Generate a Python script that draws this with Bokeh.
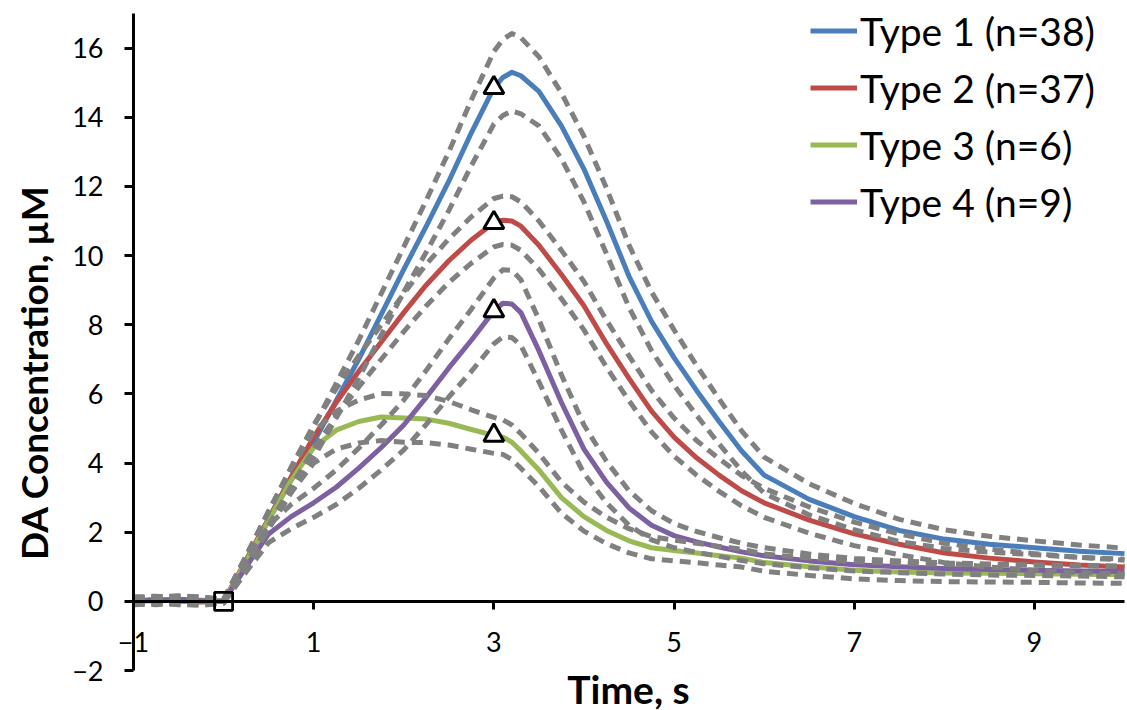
from bokeh.plotting import figure
from bokeh.models import LinearAxis, FixedTicker, Legend, LegendItem, Range1d, Label
from bokeh.embed import file_html
from bokeh.resources import INLINE
import math

# ---- data ----
t = [-1, -0.75, -0.5, -0.25, 0,
     0.25, 0.5, 0.75, 1, 1.25, 1.5, 1.75, 2, 2.25, 2.5, 2.75, 3,
     3.1, 3.2, 3.3,
     3.5, 3.75, 4, 4.25, 4.5, 4.75, 5, 5.25, 5.5, 5.75, 6,
     6.5, 7, 7.5, 8, 8.5, 9, 9.5, 10]

type1_mean = [0.02, 0.05, 0.0, 0.03, 0.0,
              1.15, 2.35, 3.5, 4.6, 5.8, 7.0, 8.3, 9.6, 10.85, 12.15, 13.55, 14.85,
              15.15, 15.3, 15.2,
              14.75, 13.75, 12.5, 11.0, 9.4, 8.1, 7.05, 6.1, 5.2, 4.35, 3.65,
              2.95, 2.45, 2.05, 1.8, 1.65, 1.55, 1.45, 1.38]
type1_sem = [0.1, 0.1, 0.1, 0.1, 0.05,
             0.15, 0.25, 0.35, 0.45, 0.5, 0.55, 0.6, 0.65, 0.75, 0.85, 0.95, 1.05,
             1.1, 1.12, 1.1,
             1.0, 0.95, 0.95, 0.95, 0.9, 0.85, 0.8, 0.72, 0.65, 0.58, 0.52,
             0.45, 0.38, 0.32, 0.27, 0.23, 0.2, 0.18, 0.16]

type2_mean = [0.0, 0.04, 0.02, -0.02, 0.0,
              1.2, 2.4, 3.6, 4.75, 5.75, 6.65, 7.5, 8.35, 9.15, 9.85, 10.45, 10.95,
              11.02, 11.0, 10.85,
              10.3, 9.45, 8.55, 7.45, 6.45, 5.5, 4.75, 4.15, 3.65, 3.2, 2.85,
              2.35, 1.95, 1.65, 1.4, 1.25, 1.14, 1.05, 0.99]
type2_sem = [0.1, 0.1, 0.1, 0.1, 0.05,
             0.12, 0.2, 0.28, 0.35, 0.4, 0.45, 0.5, 0.55, 0.6, 0.63, 0.67, 0.7,
             0.7, 0.7, 0.7,
             0.7, 0.7, 0.7, 0.68, 0.65, 0.6, 0.55, 0.5, 0.47, 0.44, 0.42,
             0.38, 0.34, 0.3, 0.28, 0.26, 0.24, 0.22, 0.2]

type3_mean = [0.03, 0.0, 0.05, 0.02, 0.0,
              1.15, 2.35, 3.5, 4.45, 4.95, 5.2, 5.33, 5.3, 5.27, 5.15, 4.97, 4.8,
              4.75, 4.6, 4.35,
              3.8, 3.0, 2.45, 2.05, 1.75, 1.55, 1.47, 1.4, 1.32, 1.25, 1.12,
              1.0, 0.9, 0.85, 0.82, 0.81, 0.8, 0.78, 0.77]
type3_sem = [0.1, 0.1, 0.1, 0.1, 0.05,
             0.15, 0.25, 0.35, 0.45, 0.55, 0.62, 0.68, 0.7, 0.68, 0.63, 0.57, 0.52,
             0.5, 0.5, 0.5,
             0.48, 0.45, 0.42, 0.38, 0.35, 0.32, 0.3, 0.28, 0.27, 0.26, 0.25,
             0.25, 0.25, 0.25, 0.25, 0.25, 0.25, 0.25, 0.25]

type4_mean = [0.0, 0.03, 0.06, 0.02, 0.0,
              1.0, 1.95, 2.45, 2.85, 3.3, 3.85, 4.45, 5.1, 5.9, 6.75, 7.55, 8.4,
              8.62, 8.6, 8.35,
              7.25, 5.75, 4.4, 3.45, 2.7, 2.2, 1.9, 1.72, 1.57, 1.43, 1.32,
              1.17, 1.06, 1.0, 0.95, 0.92, 0.9, 0.88, 0.86]
type4_sem = [0.1, 0.1, 0.1, 0.1, 0.05,
             0.15, 0.25, 0.35, 0.42, 0.5, 0.58, 0.65, 0.72, 0.78, 0.84, 0.9, 0.95,
             0.97, 0.97, 0.95,
             0.9, 0.8, 0.7, 0.6, 0.5, 0.42, 0.35, 0.3, 0.27, 0.25, 0.23,
             0.2, 0.18, 0.17, 0.16, 0.16, 0.15, 0.15, 0.15]

labels = ["Type 1 (n=38)", "Type 2 (n=37)", "Type 3 (n=6)", "Type 4 (n=9)"]
colors = ["#4a7ebb", "#be4b48", "#98b954", "#7d60a0"]

peak_t = [3, 3, 3, 3]
peak_v = [14.85, 10.95, 4.8, 8.4]
start_t = [0]
start_v = [0]

x_ticks = [-1, 1, 3, 5, 7, 9]
y_ticks = [-2, 0, 2, 4, 6, 8, 10, 12, 14, 16]
x_bounds = (-1, 10)
y_bounds = (-2, 17)
x_title = "Time, s"
y_title = "DA Concentration, µM"

FONT = "Lato"
W, H = 1127, 710
# pixel placement of the axis box inside the canvas
LEFT, RIGHT, TOP, BOTTOM = 133, 1124, 13, 670
ppx = (RIGHT - LEFT) / (x_bounds[1] - x_bounds[0])
ppy = (BOTTOM - TOP) / (y_bounds[1] - y_bounds[0])
x_range = Range1d(x_bounds[0] - LEFT / ppx, x_bounds[1] + (W - RIGHT) / ppx)
y_range = Range1d(y_bounds[0] - (H - BOTTOM) / ppy, y_bounds[1] + TOP / ppy)

p = figure(width=W, height=H, output_backend="svg", toolbar_location=None,
           x_range=x_range, y_range=y_range,
           x_axis_location=None, y_axis_location=None, min_border=0)
p.outline_line_color = None
p.grid.visible = False
p.background_fill_color = "white"
p.border_fill_color = "white"

# y axis drawn at x = -1
ya = LinearAxis(fixed_location=x_bounds[0], bounds=y_bounds,
                ticker=FixedTicker(ticks=y_ticks))
ya.axis_line_width = 3
ya.axis_line_color = "black"
ya.major_tick_line_width = 3
ya.major_tick_out = 9
ya.major_tick_in = 0
ya.minor_tick_line_color = None
ya.major_label_text_font = FONT
ya.major_label_text_font_size = "27px"
ya.major_label_text_color = "black"
ya.major_label_standoff = 21
p.add_layout(ya, "left")

# x axis drawn at y = 0
xa = LinearAxis(fixed_location=0, bounds=x_bounds, ticker=FixedTicker(ticks=x_ticks))
xa.axis_line_width = 3
xa.axis_line_color = "black"
xa.major_tick_line_width = 3
xa.major_tick_out = 8
xa.major_tick_in = 0
xa.minor_tick_line_color = None
xa.major_label_text_font = FONT
xa.major_label_text_font_size = "27px"
xa.major_label_text_color = "black"
xa.major_label_standoff = 23
p.add_layout(xa, "below")

# axis titles (screen offsets from the canvas' bottom-left corner)
p.add_layout(Label(x=628, y=22, x_units="screen", y_units="screen", text=x_title,
                   text_font=FONT, text_font_size="39px", text_font_style="bold",
                   text_color="black", text_align="center", text_baseline="middle"))
p.add_layout(Label(x=33, y=338, x_units="screen", y_units="screen", text=y_title,
                   angle=math.pi / 2, text_font=FONT, text_font_size="37px",
                   text_font_style="bold", text_color="black",
                   text_align="center", text_baseline="middle"))

means = [type1_mean, type2_mean, type3_mean, type4_mean]
sems = [type1_sem, type2_sem, type3_sem, type4_sem]

mean_renderers = []
for m, c in zip(means, colors):
    r = p.line(t, m, line_color=c, line_width=5, line_join="round")
    mean_renderers.append(r)

for m, s in zip(means, sems):
    up = [a + b for a, b in zip(m, s)]
    lo = [a - b for a, b in zip(m, s)]
    p.line(t, up, line_color="#808080", line_width=5, line_dash="11 7", line_join="round")
    p.line(t, lo, line_color="#808080", line_width=5, line_dash="11 7", line_join="round")

p.scatter(start_t, start_v, marker="square", size=18, fill_alpha=0,
          line_color="black", line_width=2.8)
p.scatter(peak_t, peak_v, marker="triangle", size=20, fill_color="white",
          line_color="black", line_width=3)

items = [LegendItem(label=lab, renderers=[r]) for lab, r in zip(labels, mean_renderers)]
legend = Legend(items=items, location=(810, 480), glyph_width=47, glyph_height=57,
                label_height=57, spacing=0, padding=0, margin=0, label_standoff=3,
                label_text_font=FONT, label_text_font_size="39px",
                label_text_color="black", border_line_color=None,
                background_fill_alpha=0)
p.add_layout(legend)

open("out.html", "w").write(file_html(p, INLINE))
